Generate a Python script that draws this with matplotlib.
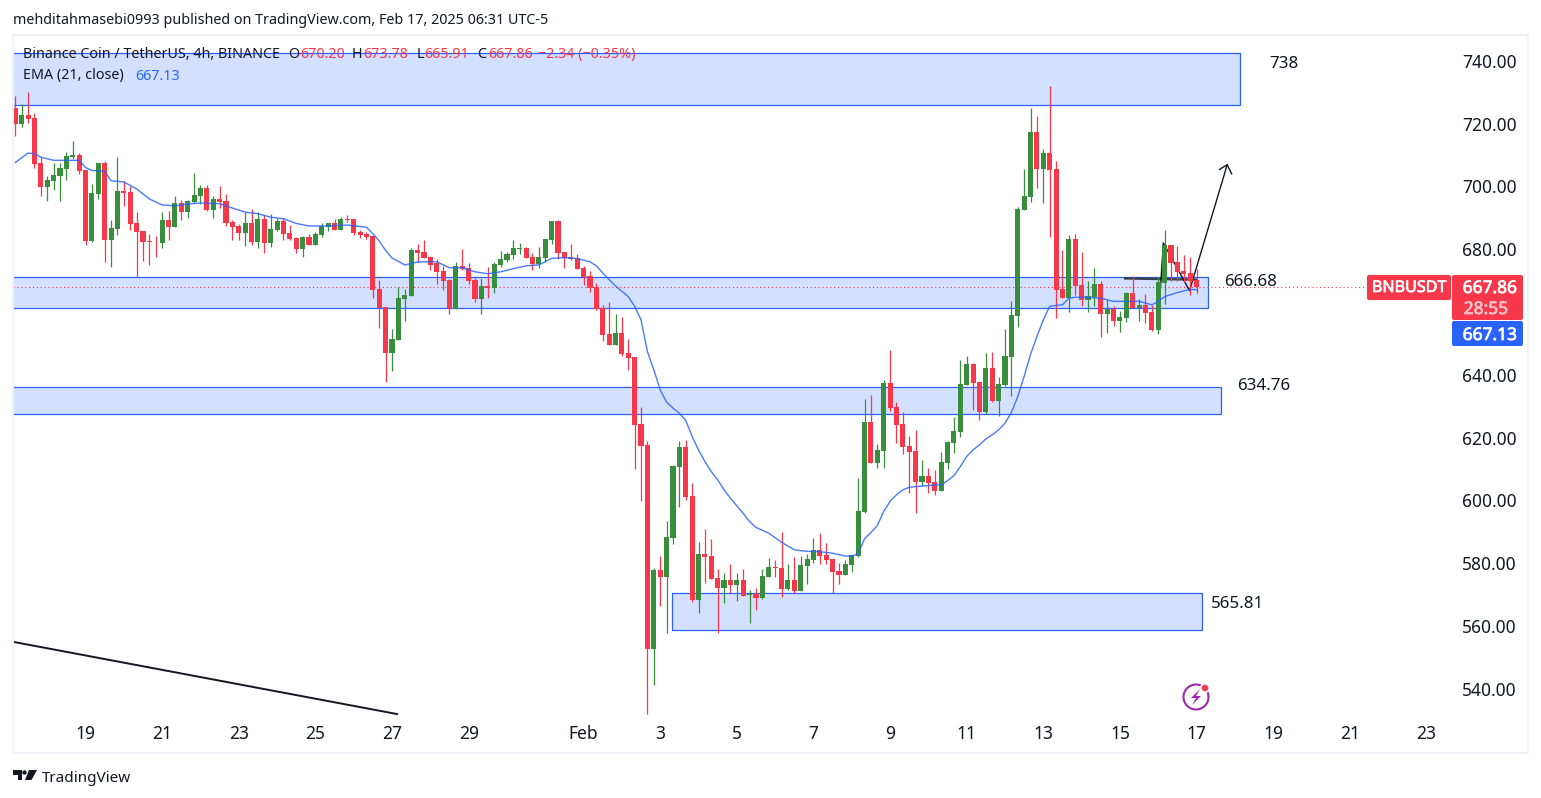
import matplotlib
matplotlib.use("Agg")
import matplotlib.pyplot as plt
import matplotlib.patheffects as pe
from matplotlib.patches import Rectangle, FancyBboxPatch, Circle, Polygon

plt.rcParams['font.family'] = ['Noto Sans', 'DejaVu Sans']

# candles, 4h bars
opens = [725.0, 719.9, 722.8, 721.8, 707.5, 699.9, 701.8, 703.4, 705.6, 709.3,
         710.1, 705.3, 682.7, 697.6, 707.5, 683.0, 686.5, 698.6, 698.3, 688.4,
         685.9, 682.7, 682.4, 682.0, 689.4, 687.1, 694.8, 691.9, 695.1, 697.0,
         699.6, 692.6, 696.1, 695.4, 688.7, 687.5, 685.2, 688.4, 682.4, 689.7,
         682.0, 686.2, 689.1, 685.2, 683.6, 680.1, 684.0, 681.4, 684.6, 687.1,
         688.4, 686.2, 689.7, 689.7, 685.5, 684.9, 684.3, 667.4, 661.7, 647.0,
         651.1, 664.2, 665.2, 679.8, 679.2, 677.6, 675.5, 673.1, 670.3, 661.0,
         674.7, 674.1, 670.3, 664.2, 668.3, 667.7, 675.0, 676.6, 678.2, 680.1,
         680.4, 677.6, 675.3, 677.3, 683.0, 689.0, 679.2, 677.6, 677.3, 674.1,
         671.5, 668.0, 661.3, 653.0, 649.6, 653.4, 647.0, 645.7, 624.4, 617.7,
         552.7, 577.9, 575.7, 588.1, 610.7, 617.1, 601.5, 568.4, 583.0, 582.4,
         575.4, 572.2, 574.7, 573.1, 574.7, 569.9, 570.3, 569.0, 575.7, 578.9,
         578.5, 571.8, 574.7, 571.2, 579.2, 581.1, 584.3, 582.7, 581.4, 577.6,
         576.3, 579.5, 582.4, 596.4, 625.0, 612.0, 615.8, 637.5, 629.8, 624.4,
         617.4, 615.8, 605.9, 607.8, 605.9, 603.1, 612.0, 618.3, 621.8, 636.8,
         643.5, 637.8, 628.2, 642.2, 631.7, 636.8, 645.7, 658.8, 692.6, 696.7,
         717.4, 705.6, 710.7, 705.6, 667.4, 664.5, 683.3, 668.7, 663.9, 664.8,
         669.0, 659.4, 661.0, 657.2, 658.1, 666.1, 661.3, 662.3, 660.1, 654.3,
         669.3, 681.4, 676.0, 673.1, 672.5, 670.20]
highs = [728.9, 726.2, 730.1, 723.3, 709.3, 703.2, 707.5, 707.4, 711.0, 714.5,
         710.6, 705.3, 700.8, 707.5, 708.1, 689.3, 709.4, 701.8, 700.2, 691.9,
         685.9, 684.9, 684.3, 691.9, 692.2, 697.0, 695.7, 695.7, 704.3, 700.5,
         700.5, 697.0, 700.2, 697.7, 689.4, 688.1, 691.9, 692.9, 691.9, 691.0,
         691.3, 690.0, 690.0, 687.8, 684.0, 684.3, 684.9, 685.5, 688.4, 688.4,
         689.7, 690.3, 691.0, 689.7, 686.2, 685.5, 684.3, 670.3, 661.7, 654.7,
         668.0, 667.4, 680.4, 681.7, 683.0, 677.9, 676.9, 674.7, 670.6, 676.0,
         680.1, 675.7, 670.9, 670.9, 674.4, 676.0, 679.5, 679.2, 683.0, 682.0,
         680.8, 678.9, 680.8, 683.3, 689.0, 689.4, 679.2, 681.7, 678.5, 674.7,
         673.1, 669.3, 662.3, 663.2, 659.4, 658.5, 651.5, 645.7, 629.8, 619.0,
         578.5, 582.4, 593.5, 611.3, 619.0, 619.3, 605.6, 586.8, 590.9, 587.8,
         578.2, 576.9, 579.8, 576.9, 578.2, 571.5, 572.2, 578.2, 581.7, 581.1,
         590.0, 579.8, 582.0, 582.4, 583.0, 588.1, 589.7, 586.5, 581.4, 580.1,
         581.1, 582.7, 607.2, 632.4, 633.6, 618.0, 638.4, 648.0, 631.4, 628.2,
         620.6, 622.5, 612.9, 610.4, 609.7, 615.5, 619.0, 626.6, 644.8, 646.0,
         643.8, 637.8, 647.0, 647.3, 639.4, 654.6, 663.6, 693.5, 705.6, 725.0,
         722.5, 712.0, 732.0, 708.2, 679.8, 684.6, 684.9, 679.2, 669.9, 674.1,
         670.0, 663.9, 662.0, 660.4, 666.5, 671.5, 664.2, 665.8, 662.3, 671.2,
         686.2, 681.4, 681.1, 678.2, 677.6, 673.78]
lows = [715.9, 718.8, 720.1, 705.7, 696.8, 695.2, 698.7, 695.5, 702.1, 708.8,
        704.0, 681.4, 682.4, 696.0, 676.0, 674.4, 684.6, 693.8, 686.2, 671.1,
        676.3, 675.0, 677.6, 680.4, 683.0, 687.0, 689.4, 690.0, 694.8, 694.5,
        692.2, 690.0, 693.2, 687.5, 683.0, 683.0, 681.1, 681.4, 680.4, 678.9,
        680.8, 685.9, 683.0, 683.0, 678.9, 677.6, 681.4, 681.4, 684.0, 685.9,
        686.2, 686.2, 688.7, 684.6, 683.6, 683.3, 664.5, 655.0, 637.8, 641.3,
        651.1, 657.2, 665.2, 676.0, 677.3, 673.4, 669.0, 667.1, 659.4, 661.0,
        673.4, 669.0, 663.2, 659.4, 664.5, 666.1, 674.4, 676.0, 676.9, 678.5,
        677.3, 673.4, 674.1, 676.0, 681.7, 676.9, 674.1, 676.6, 673.8, 668.7,
        666.4, 660.7, 650.8, 649.6, 649.6, 646.0, 641.6, 610.1, 599.9, 532.0,
        541.3, 566.4, 557.8, 586.2, 598.0, 600.2, 567.7, 564.2, 573.8, 575.0,
        557.8, 567.4, 570.6, 568.0, 569.6, 561.0, 565.2, 568.7, 575.7, 575.7,
        569.3, 571.5, 570.6, 571.2, 573.4, 580.1, 579.8, 579.8, 570.6, 573.4,
        576.3, 577.3, 582.0, 596.1, 612.0, 610.4, 610.4, 628.5, 618.3, 614.8,
        602.4, 596.0, 604.6, 602.4, 601.8, 603.1, 610.1, 615.2, 620.2, 636.8,
        628.9, 625.7, 627.6, 631.4, 626.9, 636.5, 633.3, 655.3, 692.6, 695.1,
        699.6, 694.8, 684.0, 658.2, 664.5, 660.1, 665.5, 662.0, 660.1, 662.0,
        652.1, 653.4, 655.6, 653.7, 656.9, 661.3, 657.2, 656.6, 654.0, 653.1,
        662.6, 669.9, 669.9, 669.6, 665.5, 665.91]
closes = [719.9, 722.8, 721.5, 707.2, 699.9, 702.1, 703.7, 705.9, 709.7, 710.1,
          705.0, 682.7, 698.0, 707.5, 683.0, 686.8, 698.6, 698.0, 688.1, 685.5,
          682.4, 682.4, 682.2, 689.4, 687.1, 694.8, 691.9, 695.4, 697.3, 699.6,
          692.6, 696.1, 695.1, 688.4, 687.1, 685.2, 688.4, 682.4, 689.7, 682.0,
          686.5, 689.1, 684.9, 683.3, 680.1, 684.0, 681.4, 684.9, 687.4, 688.4,
          686.2, 689.7, 689.4, 685.2, 684.6, 684.0, 667.1, 661.3, 647.0, 651.5,
          664.5, 665.5, 679.8, 678.9, 677.3, 675.0, 672.8, 669.9, 661.0, 674.7,
          673.8, 669.9, 664.2, 668.3, 667.8, 675.3, 676.9, 678.5, 680.4, 680.4,
          677.3, 675.3, 677.6, 683.3, 689.0, 678.9, 677.3, 676.9, 673.8, 671.2,
          667.7, 661.0, 652.7, 649.6, 653.4, 646.7, 645.4, 624.1, 617.4, 552.7,
          577.9, 575.7, 588.4, 611.0, 617.1, 601.1, 568.4, 583.0, 582.0, 575.0,
          572.2, 574.7, 573.1, 574.7, 569.6, 570.3, 569.0, 576.0, 578.9, 578.5,
          571.8, 574.7, 571.2, 579.5, 581.4, 584.3, 582.4, 581.1, 577.3, 576.3,
          579.8, 582.7, 596.7, 625.0, 612.0, 616.1, 637.5, 629.5, 624.1, 617.1,
          615.5, 605.9, 607.8, 605.6, 603.1, 612.3, 618.7, 622.2, 637.1, 643.5,
          637.5, 628.2, 642.2, 631.7, 637.1, 646.0, 659.1, 692.9, 697.0, 717.4,
          705.6, 710.7, 705.3, 667.1, 664.5, 683.3, 668.3, 663.9, 665.2, 669.0,
          659.4, 661.0, 657.2, 658.5, 666.1, 661.3, 662.3, 659.7, 654.3, 669.6,
          681.4, 675.7, 672.8, 672.2, 670.0, 667.86]

# EMA(21) read at these bars
ema_idx = [0, 2, 3, 4, 6, 8, 10, 11, 12, 14, 15, 17, 19, 21, 23, 25, 27, 29, 32,
           34, 36, 38, 40, 42, 44, 46, 49, 52, 55, 56, 57, 58, 59, 61, 63, 64, 66,
           68, 70, 72, 74, 76, 78, 80, 82, 84, 86, 88, 90, 91, 92, 94, 96, 97, 98,
           99, 100, 101, 102, 103, 104, 105, 106, 107, 108, 109, 110, 111, 112,
           113, 114, 115, 116, 118, 120, 122, 124, 126, 128, 130, 131, 132, 133,
           134, 135, 136, 137, 138, 139, 140, 142, 144, 145, 146, 147, 148, 149,
           150, 151, 152, 153, 154, 155, 156, 157, 158, 159, 160, 161, 162, 163,
           164, 165, 166, 168, 170, 172, 174, 176, 178, 179, 180, 182, 184, 185]
ema_val = [707.6, 710.6, 710.4, 709.3, 708.3, 708.3, 708.3, 706.0, 705.1, 704.8,
           701.8, 701.4, 699.2, 696.0, 694.1, 693.8, 694.4, 694.7, 694.5, 693.1,
           691.8, 691.3, 690.2, 689.7, 688.2, 687.4, 687.4, 687.7, 687.0, 684.9,
           682.6, 679.6, 677.2, 675.0, 675.9, 676.0, 676.0, 674.1, 674.1, 672.8,
           672.2, 672.8, 673.8, 674.7, 675.0, 677.1, 677.3, 677.0, 676.0, 674.7,
           672.4, 668.3, 664.9, 661.8, 657.5, 647.4, 641.6, 635.2, 631.3, 629.4,
           627.8, 625.5, 620.4, 616.1, 612.4, 609.2, 606.6, 603.4, 600.7, 598.3,
           595.9, 593.3, 591.4, 589.6, 586.7, 584.3, 583.8, 583.7, 583.2, 582.3,
           582.3, 583.0, 587.8, 589.8, 592.0, 596.5, 599.7, 601.8, 603.4, 604.2,
           604.6, 604.9, 605.0, 606.3, 607.9, 610.8, 614.0, 616.1, 617.7, 619.6,
           620.9, 622.5, 624.6, 628.0, 633.1, 639.5, 646.5, 652.2, 657.5, 661.8,
           662.1, 662.3, 664.4, 664.7, 664.7, 664.4, 663.4, 663.4, 663.4, 662.3,
           663.4, 664.9, 666.2, 667.2, 667.13]

tick_pos = [11, 23, 35, 47, 59, 71, 89, 101, 113, 125, 137, 149, 161, 173, 185, 197, 209, 221]
tick_labels = ['19', '21', '23', '25', '27', '29', 'Feb', '3', '5', '7', '9', '11', '13', '15', '17', '19', '21', '23']
# 660.00 sits under the price tags in the reference
price_ticks = [540, 560, 580, 600, 620, 640, 680, 700, 720, 740]

# zones: left bar, right bar, low price, high price
zones = [(-2, 191.8, 726.0, 742.5), (-2, 186.8, 661.3, 671.2),
         (-2, 188.8, 627.4, 636.2), (102.8, 185.8, 558.8, 570.6)]

UP = '#388e3c'
DOWN = '#f7374a'
BLUE = '#2962ff'
ZONE = '#d3e0ff'
INK = '#131722'
HDR = 10.3
W, H = 1541, 798

fig = plt.figure(figsize=(W / 100, H / 100), dpi=100, facecolor='white')

# overlay in plain pixels for frame and header texts
ov = fig.add_axes([0, 0, 1, 1], zorder=3)
ov.set_xlim(0, W)
ov.set_ylim(H, 0)
ov.axis('off')
ov.patch.set_alpha(0)
ov.add_patch(Rectangle((13, 35), 1515, 718, fc='none', ec='#f0f3fa', lw=1.5))

ax = fig.add_axes([13 / W, 1 - 715 / H, (1451 - 13) / W, (715 - 35) / H], zorder=2)
ax.set_xlim(-0.36, 224.85)
ax.set_ylim(531.7, 748.2)
for s in ax.spines.values():
    s.set_visible(False)

for z in zones:
    ax.add_patch(Rectangle((z[0], z[2]), z[1] - z[0], z[3] - z[2], fc=ZONE, ec=BLUE, lw=0.9, zorder=1))

# dotted last price
ax.plot([-0.36, 211.7], [closes[-1], closes[-1]], color=DOWN, lw=0.8, ls=(0, (1, 2.5)), zorder=2)

# drawings go under the candles
ax.plot([-0.36, 59.8], [555.0, 532.0], color=INK, lw=1.4, zorder=2.5)
ax.plot([173.8, 184.9], [670.7, 670.3], color='#2a2e39', lw=1.7, alpha=0.9, zorder=2.5)
ax.plot([179.3, 179.8, 183.9, 189.8], [666.1, 682.0, 666.8, 706.9], color=INK, lw=1.0, zorder=2.5)
ax.plot([188.6, 189.8, 190.5], [705.4, 706.9, 704.0], color=INK, lw=1.0, zorder=2.5)

for i in range(len(opens)):
    col = UP if closes[i] >= opens[i] else DOWN
    ax.vlines(i, lows[i], highs[i], color=col, lw=0.9, zorder=3)
    ax.bar(i, abs(closes[i] - opens[i]), bottom=min(opens[i], closes[i]), width=0.8, color=col, lw=0, zorder=3)

ax.plot(ema_idx, ema_val, color=BLUE, lw=1.0, alpha=0.85, zorder=4)

ax.yaxis.tick_right()
ax.set_yticks(price_ticks)
ax.set_yticklabels([f'{p:.2f}' for p in price_ticks])
ax.set_xticks(tick_pos)
ax.set_xticklabels(tick_labels)
ax.tick_params(axis='both', length=0, labelsize=12.5, labelcolor=INK)
ax.tick_params(axis='y', pad=8)
ax.tick_params(axis='x', pad=7)
for lab in ax.get_xticklabels():
    if lab.get_text() == 'Feb':
        lab.set_fontweight('bold')

# header
ov.text(13, 21, 'mehditahmasebi0993 published on TradingView.com, Feb 17, 2025 06:31 UTC-5',
        fontsize=HDR, color=INK, va='center')
ov.text(23, 55, 'Binance Coin / TetherUS, 4h, BINANCE', fontsize=HDR, color=INK, va='center')
x_hdr = [288, 300, 352, 363.5, 417, 424, 477, 488]
txt_hdr = ['O', '670.20', 'H', '673.78', 'L', '665.91', 'C', '667.86']
col_hdr = [INK, DOWN, INK, DOWN, INK, DOWN, INK, DOWN]
for x, t, c in zip(x_hdr, txt_hdr, col_hdr):
    ov.text(x, 55, t, fontsize=HDR, color=c, va='center')
ov.text(538, 54.3, '\u22122.34 (\u22120.35%)', fontsize=HDR, color=DOWN, va='center')
ov.text(23, 76, 'EMA (21, close)', fontsize=HDR, color=INK, va='center')
ov.text(135, 76, '667.13', fontsize=HDR, color=BLUE, va='center')

# zone labels
ov.text(1269, 64, '738', fontsize=12.2, color=INK, va='center')
ov.text(1224, 282.5, '666.68', fontsize=12.2, color=INK, va='center')
ov.text(1237, 386.5, '634.76', fontsize=12.2, color=INK, va='center')
ov.text(1211, 604.5, '565.81', fontsize=12.2, color=INK, va='center')

# price labels on the right
def tag(x0, y0, x1, y1, col):
    ov.add_patch(FancyBboxPatch((x0 + 1.5, y0 + 1.5), x1 - x0 - 3, y1 - y0 - 3,
                                boxstyle='round,pad=1.5,rounding_size=2', fc=col, ec='none'))

tag(1367, 275, 1451, 300, DOWN)
tag(1452, 275, 1523, 320, DOWN)
tag(1452, 321, 1523, 346, BLUE)
tag_labels = [(1409, 288, 'BNBUSDT', 11.6, 'white'), (1490, 288, '667.86', 12.5, 'white'),
              (1486, 309, '28:55', 12.5, '#fdc3c9'), (1490, 335, '667.13', 12.5, 'white')]
for x, y, t, fs, c in tag_labels:
    lab = ov.text(x, y, t, fontsize=fs, color=c, ha='center', va='center')
    lab.set_path_effects([pe.withStroke(linewidth=0.5, foreground=c)])

# lightning badge
ov.add_patch(Circle((1196, 697), 12.5, fc='none', ec='#9c27b0', lw=1.5))
ov.add_patch(Polygon([(1200, 689), (1191, 698), (1196, 698), (1192, 705), (1201, 696), (1196, 696)],
                     fc='#9c27b0', ec='none'))
ov.add_patch(Circle((1205, 688), 5, fc='white', ec='none'))
ov.add_patch(Circle((1205, 688), 3.3, fc=DOWN, ec='none'))

# TradingView logo
ov.add_patch(Polygon([(13, 770), (22, 770), (22, 780), (18, 780), (18, 774.5), (13, 774.5)], fc=INK, ec='none'))
ov.add_patch(Circle((24.5, 772.5), 2.2, fc=INK, ec='none'))
ov.add_patch(Polygon([(29, 770), (37, 770), (31.5, 780), (25, 780)], fc=INK, ec='none'))
ov.text(41.5, 778, 'TradingView', fontsize=11, color=INK, va='center')

plt.savefig('out.png', dpi=100)
